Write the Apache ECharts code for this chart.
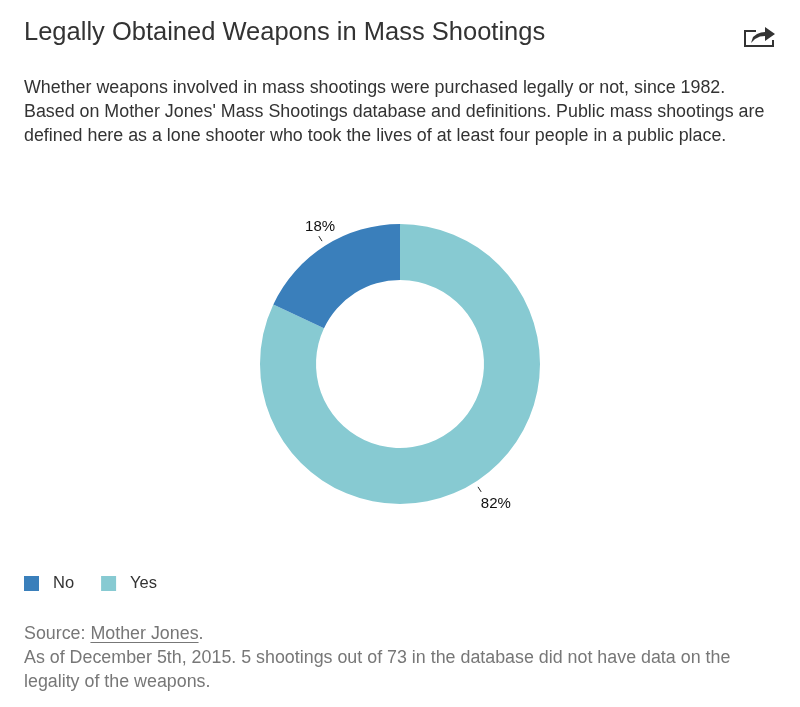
<!DOCTYPE html>
<html>
<head>
<meta charset="utf-8">
<script src="https://cdn.jsdelivr.net/npm/echarts@6/dist/echarts.min.js"></script>
<style>
html,body{margin:0;padding:0;background:#fff;}
#chart{width:800px;height:707px;}
</style>
</head>
<body>
<div id="chart"></div>
<script>
const categories = ['Yes', 'No'];
const values = [82, 18];
const legendOrder = ['No', 'Yes'];
const colors = { 'No': '#3a7fbb', 'Yes': '#87cad2' };

const FONT = '"Liberation Sans", Arial, sans-serif';
const titleText = 'Legally Obtained Weapons in Mass Shootings';
const subText = 'Whether weapons involved in mass shootings were purchased legally or not, since 1982.\nBased on Mother Jones\' Mass Shootings database and definitions. Public mass shootings are\ndefined here as a lone shooter who took the lives of at least four people in a public place.';
const sourcePrefix = 'Source: ';
const sourceLink = 'Mother Jones';
const footNote = 'As of December 5th, 2015. 5 shootings out of 73 in the database did not have data on the\nlegality of the weapons.';

const pieData = categories.map((c, i) => ({ name: c, value: values[i], itemStyle: { color: colors[c] } }));
const plainData = categories.map((c, i) => ({ name: c, value: values[i] }));

const BODY = 17.85;
const ctx = document.createElement('canvas').getContext('2d');
ctx.font = BODY + 'px ' + FONT;
const prefixW = ctx.measureText(sourcePrefix).width;
const linkW = ctx.measureText(sourceLink).width;

const CENTER = [400, 364];
const chart = echarts.init(document.getElementById('chart'));
chart.setOption({
  animation: false,
  title: {
    text: titleText,
    left: 24, top: 20, padding: 0,
    textStyle: { fontFamily: FONT, fontSize: 25.5, fontWeight: 'normal', color: '#333' },
    subtext: subText,
    itemGap: 30,
    subtextStyle: { fontFamily: FONT, fontSize: BODY, lineHeight: 24, color: '#333' }
  },
  legend: {
    data: legendOrder,
    left: 24, top: 575, padding: 0,
    icon: 'rect',
    itemWidth: 15, itemHeight: 15,
    itemGap: 27,
    textStyle: { fontFamily: FONT, fontSize: 16.5, color: '#333', padding: [0, 0, 0, 9] }
  },
  series: [
    {
      type: 'pie',
      center: CENTER,
      radius: [84, 140],
      startAngle: 90,
      clockwise: true,
      silent: true,
      label: { show: false },
      labelLine: { show: false },
      data: pieData
    },
    {
      type: 'pie',
      center: CENTER,
      radius: [145, 145.5],
      startAngle: 90,
      clockwise: true,
      silent: true,
      legendHoverLink: false,
      itemStyle: { color: 'rgba(0,0,0,0)' },
      label: { show: true, position: 'outside', formatter: () => ' ', fontSize: 4 },
      labelLine: { show: true, length: 6, length2: 0, lineStyle: { color: '#222', width: 1 } },
      data: plainData
    },
    {
      type: 'pie',
      center: CENTER,
      radius: [152, 170],
      startAngle: 90,
      clockwise: true,
      silent: true,
      legendHoverLink: false,
      itemStyle: { color: 'rgba(0,0,0,0)' },
      label: {
        show: true, position: 'inside', offset: [8, 1],
        formatter: p => p.value + '%',
        fontFamily: FONT, fontSize: 15, color: '#111'
      },
      labelLine: { show: false },
      data: plainData
    }
  ],
  graphic: [
    {
      type: 'text', x: 24, y: 634,
      style: { text: sourcePrefix + sourceLink + '.', font: BODY + 'px ' + FONT, fill: '#777', verticalAlign: 'middle' }
    },
    {
      type: 'line',
      shape: { x1: 24 + prefixW, y1: 642.5, x2: 24 + prefixW + linkW, y2: 642.5 },
      style: { stroke: '#777', lineWidth: 1 }
    },
    {
      type: 'text', x: 24, y: 670,
      style: { text: footNote, font: BODY + 'px ' + FONT, fill: '#777', lineHeight: 24, verticalAlign: 'middle' }
    },
    {
      type: 'polyline', x: 744, y: 24,
      shape: { points: [[12, 7], [1, 7], [1, 22], [29, 22], [29, 16]] },
      style: { stroke: '#333', lineWidth: 2, fill: null }
    },
    {
      type: 'polygon', x: 744, y: 24,
      shape: { points: [[7, 19], [9, 13], [13, 10], [17, 8.5], [21, 8], [21, 3], [31, 10], [21, 17], [21, 12], [16, 12.5], [11, 15]] },
      style: { fill: '#333' }
    }
  ]
});
</script>
</body>
</html>
